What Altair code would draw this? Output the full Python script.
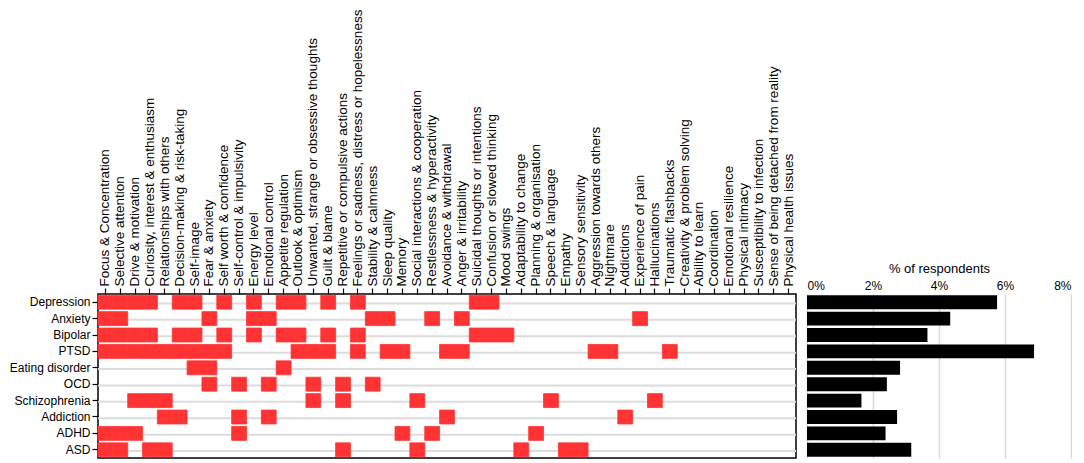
import altair as alt
import pandas as pd

disorders = ["Depression", "Anxiety", "Bipolar", "PTSD", "Eating disorder",
             "OCD", "Schizophrenia", "Addiction", "ADHD", "ASD"]

symptoms = [
    "Focus & Concentration", "Selective attention", "Drive & motivation",
    "Curiosity, interest & enthusiasm", "Relationships with others",
    "Decision-making & risk-taking", "Self-image", "Fear & anxiety",
    "Self worth & confidence", "Self-control & impulsivity", "Energy level",
    "Emotional control", "Appetite regulation", "Outlook & optimism",
    "Unwanted, strange or obsessive thoughts", "Guilt & blame",
    "Repetitive or compulsive actions",
    "Feelings or sadness, distress or hopelessness", "Stability & calmness",
    "Sleep quality", "Memory", "Social interactions & cooperation",
    "Restlessness & hyperactivity", "Avoidance & withdrawal",
    "Anger & irritability", "Suicidal thoughts or intentions",
    "Confusion or slowed thinking", "Mood swings", "Adaptability to change",
    "Planning & organisation", "Speech & language", "Empathy",
    "Sensory sensitivity", "Aggression towards others", "Nightmare",
    "Addictions", "Experience of pain", "Hallucinations",
    "Traumatic flashbacks", "Creativity & problem solving", "Ability to learn",
    "Coordination", "Emotional resilience", "Physical intimacy",
    "Susceptibility to infection", "Sense of being detached from reality",
    "Physical health issues",
]

# indices (into symptoms) of the symptoms marked for each disorder
depression = [0, 1, 2, 3, 5, 6, 8, 10, 12, 13, 15, 17, 25, 26]
anxiety = [0, 1, 7, 10, 11, 18, 19, 22, 24, 36]
bipolar = [0, 1, 2, 3, 5, 6, 8, 10, 12, 13, 15, 17, 25, 26, 27]
ptsd = [0, 1, 2, 3, 4, 5, 6, 7, 8, 13, 14, 15, 17, 19, 20, 23, 24, 33, 34, 38]
eating = [6, 7, 12]
ocd = [7, 9, 11, 14, 16, 18]
schizophrenia = [2, 3, 4, 14, 16, 21, 30, 37]
addiction = [4, 5, 9, 11, 23, 35]
adhd = [0, 1, 2, 9, 20, 22, 29]
asd = [0, 1, 3, 4, 16, 21, 28, 31, 32]

marked = [depression, anxiety, bipolar, ptsd, eating, ocd, schizophrenia,
          addiction, adhd, asd]

# % of respondents per disorder
pct_respondents = [5.76, 4.34, 3.65, 6.88, 2.82, 2.42, 1.65, 2.73, 2.38, 3.16]

FONT = "Liberation Sans"
MAT_W = 698
H = 164
ROW_STEP = H / 10.0
RED = "#ff3333"

cells = pd.DataFrame(
    [{"disorder": d, "symptom": symptoms[i]} for d, idx in zip(disorders, marked) for i in idx]
)
rows_df = pd.DataFrame({"disorder": disorders})
bars_df = pd.DataFrame({"disorder": disorders, "pct": pct_respondents})

y_scale = alt.Scale(domain=disorders, paddingInner=0.15, paddingOuter=0.075)
y_axis = alt.Axis(title=None, domain=False, ticks=True, tickSize=6,
                  tickColor="black", tickWidth=1.2, labelFontSize=12,
                  labelColor="black", labelPadding=2, grid=False,
                  labelFont=FONT)
x_axis = alt.Axis(orient="top", title=None, labelAngle=-90, labelFontSize=13.5,
                  labelColor="black", tickSize=6, tickColor="black",
                  tickWidth=1.2, domain=False, labelPadding=2, labelLimit=400,
                  labelFont=FONT, grid=False)

separators = alt.Chart(rows_df).mark_rule(color="#dcdcdc", strokeWidth=2).encode(
    y=alt.Y("disorder:N", scale=y_scale, sort=disorders, axis=y_axis),
    yOffset=alt.value(ROW_STEP / 2),
)

red_cells = alt.Chart(cells).mark_rect(color=RED, stroke=RED, strokeWidth=0.8).encode(
    x=alt.X("symptom:N", sort=symptoms,
            scale=alt.Scale(domain=symptoms, paddingInner=0, paddingOuter=0),
            axis=x_axis),
    y=alt.Y("disorder:N", scale=y_scale, sort=disorders, axis=y_axis),
)

matrix = alt.layer(separators, red_cells).properties(
    width=MAT_W, height=H,
    view=alt.ViewBackground(stroke="black", strokeWidth=1.5, fill="white"),
)

bars = alt.Chart(bars_df).mark_bar(color="black").encode(
    y=alt.Y("disorder:N", sort=disorders,
            scale=alt.Scale(domain=disorders, paddingInner=0.15, paddingOuter=0.075),
            axis=None),
    x=alt.X("pct:Q", scale=alt.Scale(domain=[0, 8], nice=False),
            axis=alt.Axis(orient="top", values=[0, 2, 4, 6, 8],
                          labelExpr="datum.value + '%'",
                          title="% of respondents", titleFontWeight="normal",
                          titleFontSize=13, titleFont=FONT, titleColor="black",
                          labelFontSize=12, labelFont=FONT, labelColor="black",
                          ticks=False, domain=False, gridColor="#d9d9d9",
                          gridWidth=1.5, labelPadding=2, titlePadding=4)),
).properties(width=264, height=H,
             view=alt.ViewBackground(stroke="transparent"))

chart = alt.hconcat(matrix, bars, spacing=8).properties(
    padding=0, background="white"
).configure(font=FONT)

chart.save("out.html", embed_options={"renderer": "svg", "actions": False})
